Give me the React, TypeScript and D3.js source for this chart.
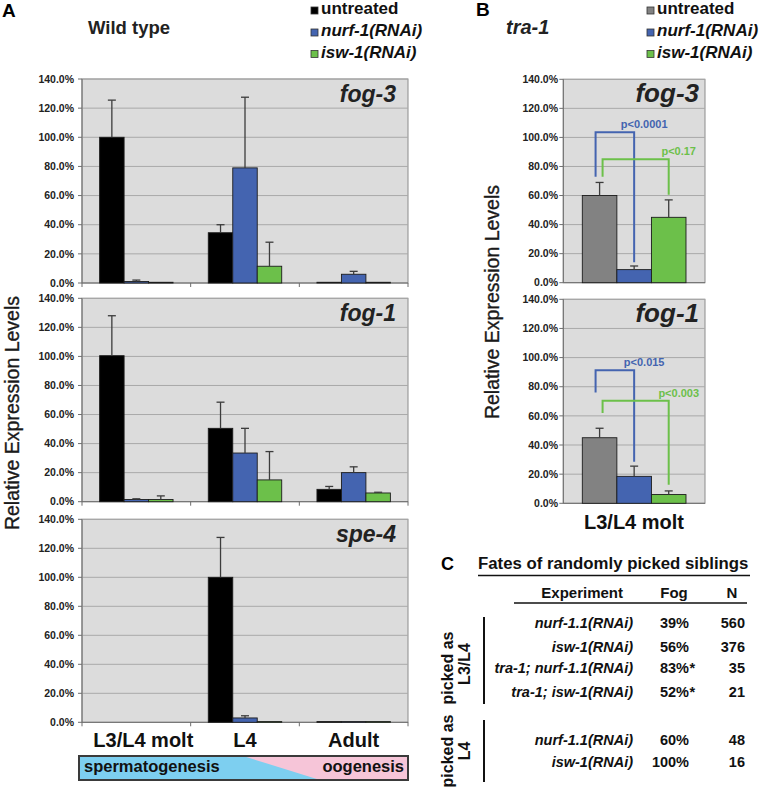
import React from "react";
import * as d3 from "d3";

const font = "'Liberation Sans', Arial, Helvetica, sans-serif";

const stages = ["L3/L4 molt", "L4", "Adult"];
const treatments = ["untreated", "nurf-1(RNAi)", "isw-1(RNAi)"];
const yTicks = [0, 20, 40, 60, 80, 100, 120, 140];

// wild type, one row per stage, one column per treatment (% of untreated L3/L4)
const wtFog3 = [[100, 1, 0.5], [34.5, 79, 11.5], [0.5, 6, 0.5]];
const wtFog3Err = [[25.5, 1, 0], [5.5, 48.5, 16.5], [0, 2, 0]];
const wtFog1 = [[100.5, 1.5, 1.5], [50.5, 33.5, 15], [8.5, 20, 6]];
const wtFog1Err = [[27.5, 0.5, 2.5], [18, 17, 19.5], [2, 4, 0.5]];
const wtSpe4 = [[0, 0, 0], [100, 3, 0.5], [0.5, 0.5, 0.5]];
const wtSpe4Err = [[0, 0, 0], [27.5, 1.5, 0], [0, 0, 0]];

// tra-1, L3/L4 molt only
const traStages = ["L3/L4 molt"];
const traFog3 = [[60, 9, 45]];
const traFog3Err = [[9, 2.5, 12]];
const traFog1 = [[45, 18.5, 6]];
const traFog1Err = [[6.5, 7, 2.5]];

// brackets: left leg starts at `low`, bar at `high`, right leg ends at `end`
const traFog3Tests = [
  { to: "nurf-1(RNAi)", low: 73, high: 103.5, end: 14, p: "p<0.0001" },
  { to: "isw-1(RNAi)", low: 73, high: 85, end: 60.6, p: "p<0.17" },
];
const traFog1Tests = [
  { to: "nurf-1(RNAi)", low: 76, high: 91.3, end: 28.5, p: "p<0.015" },
  { to: "isw-1(RNAi)", low: 62, high: 70.4, end: 12.8, p: "p<0.003" },
];

// panel C table
const tableExperiments = [
  "nurf-1.1(RNAi)",
  "isw-1(RNAi)",
  "tra-1; nurf-1.1(RNAi)",
  "tra-1; isw-1(RNAi)",
  "nurf-1.1(RNAi)",
  "isw-1(RNAi)",
];
const tableFog = [39, 56, 83, 52, 60, 100];
const tableStar = [false, false, true, true, false, false];
const tableN = [560, 376, 35, 21, 48, 16];

const wtColors = ["#000000", "#4464b0", "#6cc04a"];
const traColors = ["#828282", "#4464b0", "#6cc04a"];

function BarPanel(props) {
  const { left, right, top, bottom, cats, means, errs, colors, gene, geneSize, geneDx, padOuter, catTicks, tests, labelX } = props;
  const x = d3.scaleBand().domain(cats).range([left, right]);
  const inner = d3.scaleBand().domain(treatments).range([0, x.bandwidth()]).paddingOuter(padOuter);
  const y = d3.scaleLinear().domain([0, 140]).range([bottom, top]);
  const barCenter = (c, t) => x(c) + inner(t) + inner.bandwidth() / 2;

  return (
    <g>
      <rect x={left} y={top} width={right - left} height={bottom - top} fill="#dcdcdc" stroke="#8c8c8c" />
      {yTicks.filter(t => t > 0).map(t => (
        <line key={"g" + t} x1={left} x2={right} y1={y(t)} y2={y(t)} stroke="#a9a9a9" />
      ))}
      {yTicks.map(t => (
        <g key={"t" + t}>
          <line x1={left - 4} x2={left} y1={y(t)} y2={y(t)} stroke="#6e6e6e" />
          <text x={labelX} y={y(t)} dy="0.35em" textAnchor="end" fontSize={10.5} fontWeight="bold" fill="#222">
            {t.toFixed(1) + "%"}
          </text>
        </g>
      ))}
      <line x1={left} x2={left} y1={top} y2={bottom} stroke="#6e6e6e" />
      <line x1={left} x2={right} y1={bottom} y2={bottom} stroke="#6e6e6e" />
      {catTicks &&
        cats.map(c => x(c)).concat([right]).map((v, i) => (
          <line key={"c" + i} x1={v} x2={v} y1={bottom} y2={bottom + 4} stroke="#6e6e6e" />
        ))}
      {cats.map((c, ci) =>
        treatments.map((t, ti) => {
          const m = means[ci][ti];
          if (m <= 0) return null;
          return (
            <rect
              key={c + t}
              x={x(c) + inner(t)}
              y={y(m)}
              width={inner.bandwidth()}
              height={bottom - y(m)}
              fill={colors[ti]}
              stroke="#1c1c1c"
              strokeWidth={0.9}
            />
          );
        })
      )}
      {cats.map((c, ci) =>
        treatments.map((t, ti) => {
          const m = means[ci][ti];
          const e = errs[ci][ti];
          if (e <= 0) return null;
          const cx = barCenter(c, t);
          return (
            <g key={"e" + c + t} stroke="#3c3c3c" strokeWidth={1.3}>
              <line x1={cx} x2={cx} y1={y(m)} y2={y(m + e)} />
              <line x1={cx - 4} x2={cx + 4} y1={y(m + e)} y2={y(m + e)} />
            </g>
          );
        })
      )}
      {tests &&
        tests.map((s, i) => {
          const x1 = barCenter(cats[0], treatments[0]) + (i === 0 ? -4 : 3);
          const x2 = barCenter(cats[0], s.to);
          const col = colors[treatments.indexOf(s.to)];
          return (
            <g key={"s" + i}>
              <path
                d={`M${x1},${y(s.low)}V${y(s.high)}H${x2}V${y(s.end)}`}
                fill="none"
                stroke={col}
                strokeWidth={2}
              />
              <text x={x2 + 10} y={y(s.high) - 4} textAnchor="middle" fontSize={11} fontWeight="bold" fill={col}>
                {s.p}
              </text>
            </g>
          );
        })}
      <text
        x={right - geneDx}
        y={top + 23}
        textAnchor="end"
        fontSize={geneSize}
        fontWeight="bold"
        fontStyle="italic"
        fill="#222"
      >
        {gene}
      </text>
    </g>
  );
}

function Legend({ x, colors }) {
  const rows = [14, 36, 57.5];
  return (
    <g>
      {treatments.map((t, i) => (
        <g key={t}>
          <rect x={x} y={rows[i] - 7} width={7} height={7} fill={colors[i]} stroke="#333" strokeWidth={0.8} />
          <text x={x + 10} y={rows[i]} fontSize={17} fontWeight="bold" fontStyle={i === 0 ? "normal" : "italic"} fill="#111">
            {t}
          </text>
        </g>
      ))}
    </g>
  );
}

export default function App() {
  const rowY = [628.3, 651.7, 673.3, 696.7, 745, 766.7];
  return (
    <svg
      width={760}
      height={790}
      style={{ position: "absolute", left: 0, top: 0, background: "#fff" }}
      fontFamily={font}
    >
      {/* panel A */}
      <text x={2} y={17} fontSize={19} fontWeight="bold">A</text>
      <text x={88} y={34} fontSize={18.5} fontWeight="bold" fill="#222">Wild type</text>
      <Legend x={311} colors={wtColors} />
      <text
        transform="translate(19,413) rotate(-90)"
        textAnchor="middle"
        fontSize={19.5}
        fill="#1a1a1a"
        stroke="#1a1a1a"
        strokeWidth={0.35}
      >
        Relative Expression Levels
      </text>
      <BarPanel left={82} right={408} top={79} bottom={283} cats={stages} means={wtFog3} errs={wtFog3Err}
        colors={wtColors} gene="fog-3" geneSize={23} geneDx={12} padOuter={0.72} catTicks labelX={74} />
      <BarPanel left={82} right={408} top={298.3} bottom={501.7} cats={stages} means={wtFog1} errs={wtFog1Err}
        colors={wtColors} gene="fog-1" geneSize={23} geneDx={12} padOuter={0.72} catTicks labelX={74} />
      <BarPanel left={82} right={408} top={519.3} bottom={722.3} cats={stages} means={wtSpe4} errs={wtSpe4Err}
        colors={wtColors} gene="spe-4" geneSize={23} geneDx={12} padOuter={0.72} catTicks labelX={74} />
      {stages.map((s, i) => {
        const xb = d3.scaleBand().domain(stages).range([82, 408]);
        return (
          <text key={s} x={xb(s) + xb.bandwidth() / 2 + (i === 0 ? 7 : 0)} y={746.5} textAnchor="middle"
            fontSize={20} fontWeight="bold" fill="#111">
            {s}
          </text>
        );
      })}
      <g>
        <rect x={79} y={756} width={329} height={24} fill="#f6c5d8" />
        <polygon points="79,756 243,756 320,780 79,780" fill="#7dcff0" />
        <rect x={79} y={756} width={329} height={24} fill="none" stroke="#3a3a3a" strokeWidth={2} />
        <text x={84} y={772} fontSize={16.5} fontWeight="bold" fill="#111">spermatogenesis</text>
        <text x={404} y={772} textAnchor="end" fontSize={16.5} fontWeight="bold" fill="#111">oogenesis</text>
      </g>

      {/* panel B */}
      <text x={476} y={16} fontSize={19} fontWeight="bold">B</text>
      <text x={506} y={33.5} fontSize={20} fontWeight="bold" fontStyle="italic" fill="#222">tra-1</text>
      <Legend x={647} colors={traColors} />
      <text
        transform="translate(499,302) rotate(-90)"
        textAnchor="middle"
        fontSize={19.5}
        fill="#1a1a1a"
        stroke="#1a1a1a"
        strokeWidth={0.35}
      >
        Relative Expression Levels
      </text>
      <BarPanel left={563.3} right={705} top={79.3} bottom={282.7} cats={traStages} means={traFog3} errs={traFog3Err}
        colors={traColors} gene="fog-3" geneSize={26} geneDx={6} padOuter={0.55} tests={traFog3Tests} labelX={558} />
      <BarPanel left={563.3} right={705} top={299.3} bottom={503.3} cats={traStages} means={traFog1} errs={traFog1Err}
        colors={traColors} gene="fog-1" geneSize={26} geneDx={6} padOuter={0.55} tests={traFog1Tests} labelX={558} />
      <text x={634} y={528.5} textAnchor="middle" fontSize={20} fontWeight="bold" fill="#111">L3/L4 molt</text>

      {/* panel C */}
      <text x={441} y={570} fontSize={18} fontWeight="bold">C</text>
      <text x={478} y={569} fontSize={16.8} fontWeight="bold" fill="#111">Fates of randomly picked siblings</text>
      <line x1={478} x2={750} y1={575.5} y2={575.5} stroke="#111" strokeWidth={1.5} />
      <text x={623} y={598} textAnchor="end" fontSize={15} fontWeight="bold" fill="#111">Experiment</text>
      <text x={674} y={598} textAnchor="middle" fontSize={15} fontWeight="bold" fill="#111">Fog</text>
      <text x={732} y={598} textAnchor="middle" fontSize={15} fontWeight="bold" fill="#111">N</text>
      <line x1={514} x2={747} y1={603} y2={603} stroke="#111" strokeWidth={1.5} />
      {tableExperiments.map((e, i) => (
        <g key={i} fontSize={14.5} fontWeight="bold" fill="#111">
          <text x={633} y={rowY[i]} textAnchor="end" fontStyle="italic">{e}</text>
          <text x={689} y={rowY[i]} textAnchor="end">{tableFog[i] + "%"}</text>
          {tableStar[i] && <text x={689.5} y={rowY[i]}>*</text>}
          <text x={745} y={rowY[i]} textAnchor="end">{tableN[i]}</text>
        </g>
      ))}
      <line x1={484} x2={484} y1={617} y2={704} stroke="#111" strokeWidth={2} />
      <line x1={484} x2={484} y1={720} y2={782} stroke="#111" strokeWidth={2} />
      <g fontSize={16} fontWeight="bold" fill="#111" textAnchor="middle">
        <text transform="translate(453,668) rotate(-90)">picked as</text>
        <text transform="translate(470,664) rotate(-90)">L3/L4</text>
        <text transform="translate(453,751) rotate(-90)">picked as</text>
        <text transform="translate(470,751) rotate(-90)">L4</text>
      </g>
    </svg>
  );
}
